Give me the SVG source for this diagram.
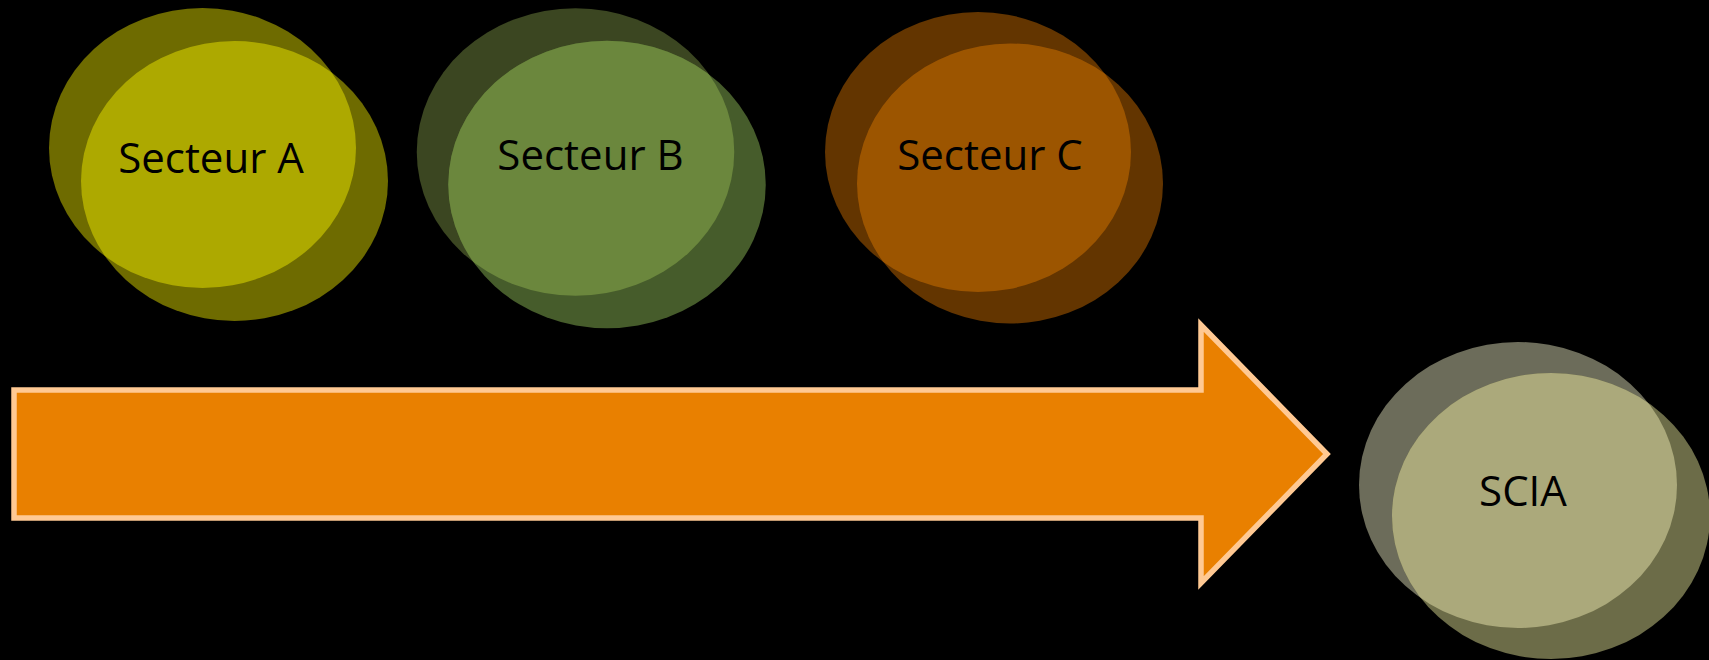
<svg xmlns="http://www.w3.org/2000/svg" width="1709" height="660" viewBox="0 0 1709 660">
<style>
.lbl{font-family:"Open Sans","Noto Sans","Liberation Sans",sans-serif;font-size:42px;fill:#000;text-anchor:middle}
</style>
<defs>
<clipPath id="cA"><ellipse cx="202.5" cy="148" rx="153.5" ry="140"/></clipPath>
<clipPath id="cB"><ellipse cx="575.5" cy="152" rx="158.75" ry="143.75"/></clipPath>
<clipPath id="cC"><ellipse cx="978" cy="152" rx="153" ry="140"/></clipPath>
<clipPath id="cS"><ellipse cx="1518" cy="485" rx="159" ry="143"/></clipPath>
</defs>
<rect x="0" y="0" width="1709" height="660" fill="#000"/>
<g id="connectors">
<path d="M14,390 H1201 V325 L1327,454 L1201,583 V518 H14 Z" fill="#E98000" stroke="#FFC993" stroke-width="5.5" stroke-linejoin="miter"/>
</g>
<g id="secteurA">
<ellipse cx="202.5" cy="148" rx="153.5" ry="140" fill="#6E6B00"/>
<ellipse cx="234.5" cy="181" rx="153.5" ry="140" fill="#6E6B00"/>
<ellipse cx="234.5" cy="181" rx="153.5" ry="140" fill="#ADA900" clip-path="url(#cA)"/>
<text class="lbl" x="211" y="173">Secteur A</text>
</g>
<g id="secteurB">
<ellipse cx="575.5" cy="152" rx="158.75" ry="143.75" fill="#3B4621"/>
<ellipse cx="607" cy="184.5" rx="158.75" ry="143.75" fill="#465C2B"/>
<ellipse cx="607" cy="184.5" rx="158.75" ry="143.75" fill="#6B873D" clip-path="url(#cB)"/>
<text class="lbl" x="590.5" y="170">Secteur B</text>
</g>
<g id="secteurC">
<ellipse cx="978" cy="152" rx="153" ry="140" fill="#633500"/>
<ellipse cx="1010" cy="183.5" rx="153" ry="140" fill="#633500"/>
<ellipse cx="1010" cy="183.5" rx="153" ry="140" fill="#9C5500" clip-path="url(#cC)"/>
<text class="lbl" x="990" y="170">Secteur C</text>
</g>
<g id="scia">
<ellipse cx="1518" cy="485" rx="159" ry="143" fill="#6C6C5A"/>
<ellipse cx="1551" cy="516" rx="159" ry="143" fill="#6C6C48"/>
<ellipse cx="1551" cy="516" rx="159" ry="143" fill="#ABA97B" clip-path="url(#cS)"/>
<text class="lbl" x="1523" y="506">SCIA</text>
</g>
</svg>
